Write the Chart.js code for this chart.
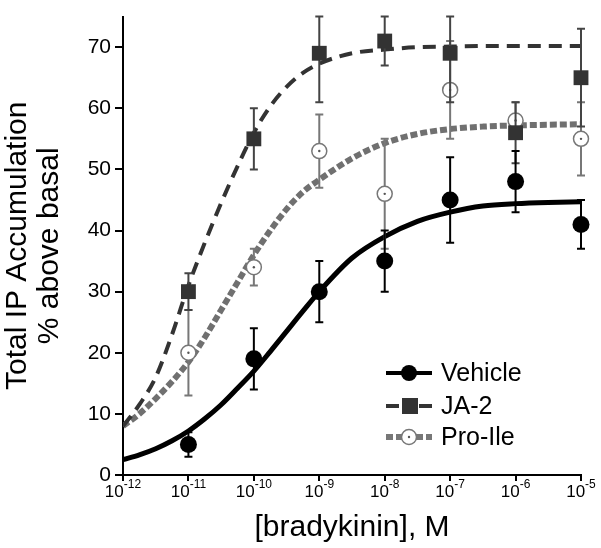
<!DOCTYPE html>
<html>
<head>
<meta charset="utf-8">
<script src="https://cdn.jsdelivr.net/npm/chart.js@4.4.0/dist/chart.umd.min.js"></script>
<style>
  html, body { margin: 0; padding: 0; background: #fff; }
</style>
</head>
<body>
<canvas id="ipChart" width="601" height="548"></canvas>
<script>
// log10 [bradykinin] (M) of the measured points
const doses = [-11, -10, -9, -8, -7, -6, -5];

const vehicleMean = [5, 19, 30, 35, 45, 48, 41];
const vehicleErr  = [2, 5, 5, 5, 7, 5, 4];

const ja2Mean = [30, 55, 69, 71, 69, 56, 65];
const ja2Err  = [3, 5, 8, 4, 8, 5, 8];

const proIleMean = [20, 34, 53, 46, 63, 58, 55];
const proIleErr  = [7, 3, 6, 9, 8, 3, 6];

// fitted curves
const fitDoses   = [-12, -11.75, -11.5, -11.25, -11, -10.75, -10.5, -10.25, -10, -9.75, -9.5, -9.25, -9, -8.5, -8, -7.5, -7, -6.5, -6, -5.5, -5];
const vehicleFit = [2.5, 3.3, 4.3, 5.6, 7.2, 9.2, 11.5, 14.2, 17, 20.2, 23.5, 26.8, 30, 35.5, 39, 41.5, 43, 44, 44.4, 44.6, 44.7];
const ja2Fit     = [8, 11.5, 16, 23, 31, 38, 44.5, 50.5, 56, 60.3, 63.5, 65.8, 67.3, 69, 69.6, 70, 70.1, 70.2, 70.2, 70.2, 70.2];
const proIleFit  = [8, 10, 12.5, 15.3, 18.5, 22.5, 27, 31.5, 36, 40, 43.5, 46.3, 48.3, 51.8, 54.3, 55.8, 56.6, 57, 57.2, 57.3, 57.4];

const xTickExps = [-12, -11, -10, -9, -8, -7, -6, -5];
const yMax = 75;

const pts = (xs, ys) => xs.map((x, i) => ({ x: x, y: ys[i] }));

// error bars drawn just before each point dataset
const errorBars = {
    id: 'errorBars',
    beforeDatasetDraw(chart, args) {
        const ds = chart.data.datasets[args.index];
        if (!ds.errors) return;
        const { ctx, scales: { x, y } } = chart;
        ctx.save();
        ctx.strokeStyle = ds.errColor;
        ctx.lineWidth = 2;
        ds.data.forEach((p, i) => {
            const px = x.getPixelForValue(p.x);
            const top = y.getPixelForValue(Math.min(p.y + ds.errors[i], yMax));
            const bot = y.getPixelForValue(p.y - ds.errors[i]);
            ctx.beginPath();
            ctx.moveTo(px, top); ctx.lineTo(px, bot);
            ctx.moveTo(px - 4, top); ctx.lineTo(px + 4, top);
            ctx.moveTo(px - 4, bot); ctx.lineTo(px + 4, bot);
            ctx.stroke();
        });
        ctx.restore();
    },
    afterDatasetDraw(chart, args) {
        const ds = chart.data.datasets[args.index];
        if (!ds.centerDot) return;
        const { ctx, scales: { x, y } } = chart;
        ctx.save();
        ctx.fillStyle = '#555';
        ds.data.forEach(p => {
            ctx.beginPath();
            ctx.arc(x.getPixelForValue(p.x), y.getPixelForValue(p.y), 1.2, 0, Math.PI * 2);
            ctx.fill();
        });
        ctx.restore();
    }
};

// superscript x labels + legend
const extras = {
    id: 'extras',
    afterDraw(chart) {
        const { ctx, scales: { x } } = chart;
        ctx.save();
        ctx.fillStyle = '#000';
        ctx.textBaseline = 'alphabetic';
        xTickExps.forEach(e => {
            const px = x.getPixelForValue(e);
            ctx.font = '17px "Liberation Sans", Arial, sans-serif';
            const w1 = ctx.measureText('10').width;
            ctx.font = '12px "Liberation Sans", Arial, sans-serif';
            const sup = String(e);
            const w2 = ctx.measureText(sup).width;
            const left = px - (w1 + w2) / 2;
            ctx.font = '17px "Liberation Sans", Arial, sans-serif';
            ctx.fillText('10', left, 497);
            ctx.font = '12px "Liberation Sans", Arial, sans-serif';
            ctx.fillText(sup, left + w1, 488);
        });

        // legend
        const rows = [
            { label: 'Vehicle', y: 373, color: '#000', dash: [], lw: 4 },
            { label: 'JA-2', y: 406, color: '#333', dash: [13, 6], lw: 4 },
            { label: 'Pro-Ile', y: 437, color: '#777', dash: [7, 3], lw: 6 }
        ];
        rows.forEach((r, i) => {
            ctx.save();
            ctx.strokeStyle = r.color;
            ctx.lineWidth = r.lw;
            ctx.setLineDash(r.dash);
            ctx.beginPath();
            ctx.moveTo(386, r.y); ctx.lineTo(432, r.y);
            ctx.stroke();
            ctx.restore();
            if (i === 0) {
                ctx.fillStyle = '#000';
                ctx.beginPath(); ctx.arc(409, r.y, 8, 0, Math.PI * 2); ctx.fill();
            } else if (i === 1) {
                ctx.fillStyle = '#fff';
                ctx.fillRect(399, r.y - 3, 28, 6);
                ctx.fillStyle = '#333';
                ctx.fillRect(419, r.y - 2, 8, 4);
                ctx.fillRect(402, r.y - 8, 16, 16);
            } else {
                ctx.fillStyle = '#fff';
                ctx.strokeStyle = '#777';
                ctx.lineWidth = 1.5;
                ctx.beginPath(); ctx.arc(409, r.y, 7.5, 0, Math.PI * 2); ctx.fill(); ctx.stroke();
                ctx.fillStyle = '#555';
                ctx.beginPath(); ctx.arc(409, r.y, 1.2, 0, Math.PI * 2); ctx.fill();
            }
            ctx.fillStyle = '#000';
            ctx.font = '25px "Liberation Sans", Arial, sans-serif';
            ctx.textBaseline = 'middle';
            ctx.fillText(r.label, 441, r.y + 1);
        });
        ctx.restore();
    }
};

const ctx = document.getElementById('ipChart').getContext('2d');
new Chart(ctx, {
    type: 'scatter',
    data: {
        datasets: [
            {
                label: 'Vehicle', data: pts(doses, vehicleMean), order: 0, clip: false,
                errors: vehicleErr, errColor: '#000',
                pointStyle: 'circle', pointRadius: 8.5, backgroundColor: '#000', borderColor: '#000', borderWidth: 0
            },
            {
                label: 'JA-2', data: pts(doses, ja2Mean), order: 0, clip: false,
                errors: ja2Err, errColor: '#444',
                pointStyle: 'rect', pointRadius: 10.5, backgroundColor: '#333', borderColor: '#333', borderWidth: 0
            },
            {
                label: 'Pro-Ile', data: pts(doses, proIleMean), order: 0, clip: false,
                errors: proIleErr, errColor: '#777', centerDot: true,
                pointStyle: 'circle', pointRadius: 7.5, backgroundColor: '#fff', borderColor: '#777', borderWidth: 1.5
            },
            {
                label: 'Vehicle fit', data: pts(fitDoses, vehicleFit), order: 1, showLine: true,
                pointRadius: 0, borderColor: '#000', borderWidth: 5, cubicInterpolationMode: 'monotone'
            },
            {
                label: 'JA-2 fit', data: pts(fitDoses, ja2Fit), order: 1, showLine: true,
                pointRadius: 0, borderColor: '#333', borderWidth: 4, borderDash: [13, 8], cubicInterpolationMode: 'monotone'
            },
            {
                label: 'Pro-Ile fit', data: pts(fitDoses, proIleFit), order: 1, showLine: true,
                pointRadius: 0, borderColor: '#707070', borderWidth: 6, borderDash: [7, 3], cubicInterpolationMode: 'monotone'
            }
        ]
    },
    options: {
        responsive: false,
        animation: false,
        layout: { padding: { top: 7, right: 20, left: 0, bottom: 0 } },
        plugins: {
            legend: { display: false },
            tooltip: { enabled: false }
        },
        scales: {
            x: {
                type: 'linear',
                min: -12, max: -5,
                ticks: { stepSize: 1, display: false },
                grid: { drawOnChartArea: false, color: '#000', lineWidth: 2, tickLength: 6 },
                border: { color: '#000', width: 2 },
                title: {
                    display: true, text: '[bradykinin], M', color: '#000',
                    font: { family: '"Liberation Sans", Arial, sans-serif', size: 30, lineHeight: 1.07 },
                    padding: { top: 0, bottom: 4 }
                },
                afterFit: s => { s.height = 73; }
            },
            y: {
                min: 0, max: yMax,
                ticks: { stepSize: 10, color: '#000', padding: 4,
                    font: { family: '"Liberation Sans", Arial, sans-serif', size: 21 } },
                afterBuildTicks: s => { s.ticks = s.ticks.filter(t => t.value <= 70); },
                grid: { drawOnChartArea: false, color: '#000', lineWidth: 2, tickLength: 8 },
                border: { color: '#000', width: 2 },
                title: {
                    display: true, text: ['Total IP Accumulation', '% above basal'], color: '#000',
                    font: { family: '"Liberation Sans", Arial, sans-serif', size: 30, lineHeight: 1.07 },
                    padding: { top: 2, bottom: 0 }
                },
                afterFit: s => { s.width = 123; }
            }
        }
    },
    plugins: [errorBars, extras]
});
</script>
</body>
</html>
